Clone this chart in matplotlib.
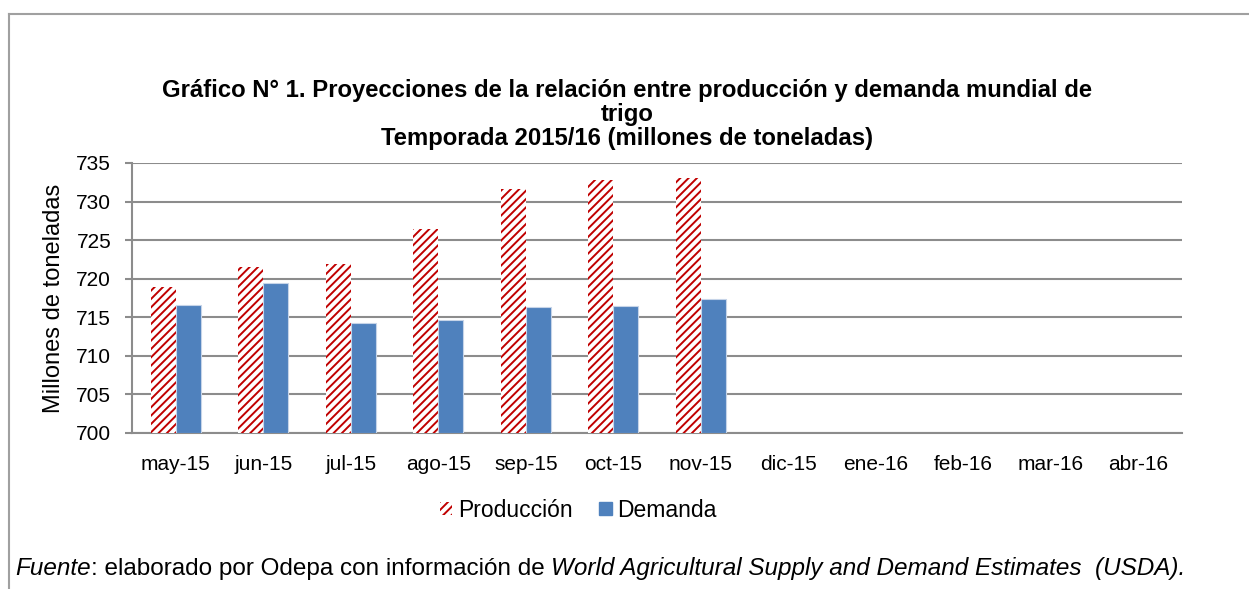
import matplotlib
matplotlib.use("Agg")
import numpy as np
from matplotlib import pyplot as plt
from matplotlib.lines import Line2D
from matplotlib.patches import Patch

plt.rcParams['font.family'] = ['Liberation Sans', 'DejaVu Sans']
plt.rcParams['hatch.linewidth'] = 1.4

meses = ["may-15", "jun-15", "jul-15", "ago-15", "sep-15", "oct-15", "nov-15",
         "dic-15", "ene-16", "feb-16", "mar-16", "abr-16"]
produccion = [718.9, 721.5, 721.9, 726.5, 731.6, 732.8, 733.0]
demanda = [716.6, 719.5, 714.2, 714.7, 716.3, 716.5, 717.4]

ROJO = "#C00000"
AZUL = "#4F81BD"
GRIS = "#8C8C8C"

fig = plt.figure(figsize=(12.49, 5.89), dpi=100)
ax = fig.add_axes([0.1057, 0.2649, 0.8407, 0.4584])

base = 700
w = 0.285
x = np.arange(len(produccion))
ax.bar(x - w / 2, np.array(produccion) - base, w, bottom=base, color="white",
       edgecolor=ROJO, hatch="////", linewidth=0, zorder=3)
ax.bar(x + w / 2, np.array(demanda) - base, w, bottom=base, color=AZUL,
       edgecolor="#C6D4E8", linewidth=0.8, zorder=3)

ax.set_xlim(-0.5, len(meses) - 0.5)
ax.set_ylim(700, 735)
ax.set_yticks(np.arange(700, 736, 5))
ax.set_xticks(np.arange(len(meses)))
ax.set_xticklabels(meses)
ax.tick_params(axis="x", length=0, labelsize=15, pad=16)
ax.tick_params(axis="y", length=5, width=1.5, color=GRIS, labelsize=15, pad=10)
ax.grid(axis="y", color=GRIS, linewidth=1.5, zorder=0)
ax.set_axisbelow(True)
for s in ["top", "right"]:
    ax.spines[s].set_visible(False)
ax.spines["left"].set_color(GRIS)
ax.spines["left"].set_linewidth(1.5)
ax.spines["bottom"].set_color(GRIS)
ax.spines["bottom"].set_linewidth(1.5)
ax.set_ylabel("Millones de toneladas", fontsize=17, labelpad=8)

fig.text(0.502, 0.805, "Gráfico N° 1. Proyecciones de la relación entre producción y demanda mundial de\n"
         "trigo\nTemporada 2015/16 (millones de toneladas)",
         ha="center", va="center", fontsize=17.2, fontweight="bold", linespacing=1.05)

handles = [Patch(facecolor="white", edgecolor=ROJO, hatch="////", linewidth=0),
           Patch(facecolor=AZUL, edgecolor=AZUL)]
fig.legend(handles, ["Producción", "Demanda"], loc="center", bbox_to_anchor=(0.463, 0.134),
           ncol=2, frameon=False, fontsize=16.5, handlelength=0.55, handleheight=0.55,
           handletextpad=0.25, columnspacing=1.15)

# nota de fuente, con partes en cursiva
t1 = fig.text(0.012, 0.024, "Fuente", fontsize=17.5, style="italic", va="baseline")
t2 = ax.annotate(": elaborado por Odepa con información de ", xy=(1, 0), xycoords=t1,
                 va="bottom", fontsize=17.5, annotation_clip=False)
ax.annotate("World Agricultural Supply and Demand Estimates  (USDA).", xy=(1, 0), xycoords=t2,
            va="bottom", fontsize=17.5, style="italic", annotation_clip=False)

# marco del gráfico
fig.add_artist(Line2D([0.0075, 0.0075], [0.0, 0.976], transform=fig.transFigure, color="#A0A0A0", linewidth=1.5))
fig.add_artist(Line2D([0.0075, 1.0], [0.976, 0.976], transform=fig.transFigure, color="#A0A0A0", linewidth=1.5))

fig.savefig("out.png", dpi=100)
